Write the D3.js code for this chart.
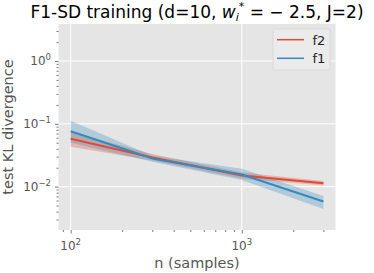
<!DOCTYPE html>
<html><head><meta charset="utf-8">
<script src="https://cdn.jsdelivr.net/npm/d3@7"></script>
<style>body{margin:0;background:#fff;font-family:"DejaVu Sans",sans-serif;}</style>
</head><body><svg id="c" width="374" height="273"></svg>
<script>
const nSamples = [100, 300, 1000, 3000];
const f2Mean = [0.058, 0.029, 0.0150, 0.0113];
const f2Lo   = [0.043, 0.026, 0.0135, 0.0104];
const f2Hi   = [0.074, 0.033, 0.0168, 0.0123];
const f1Mean = [0.076, 0.028, 0.0156, 0.0058];
const f1Lo   = [0.050, 0.025, 0.0128, 0.0044];
const f1Hi   = [0.112, 0.031, 0.0192, 0.0071];
const xTicks = [100, 1000];
const yTicks = [1, 0.1, 0.01];
const seriesNames = ["f2", "f1"];
const colors = ["#E24A33", "#348ABD"];

const svg = d3.select("#c");
const L = 58.5, R = 335.5, T = 24, B = 230;
const x = d3.scaleLog().domain([84.9, 3530]).range([L, R]);
const y = d3.scaleLog().domain([0.00204, 3.88]).range([B, T]);

svg.append("rect").attr("x", L).attr("y", T).attr("width", R - L).attr("height", B - T).attr("fill", "#E5E5E5");

// grid
svg.append("g").selectAll("line").data(xTicks).join("line")
  .attr("x1", d => x(d)).attr("x2", d => x(d)).attr("y1", T).attr("y2", B)
  .attr("stroke", "#fff").attr("stroke-width", 1);
svg.append("g").selectAll("line").data(yTicks).join("line")
  .attr("y1", d => y(d)).attr("y2", d => y(d)).attr("x1", L).attr("x2", R)
  .attr("stroke", "#fff").attr("stroke-width", 1);

// axes
const xMinor = [];
for (let e = 1; e <= 3; e++) for (let m = 2; m <= 9; m++) { const v = m * Math.pow(10, e); if (v >= 84.9 && v <= 3530) xMinor.push(v); }
const yMinor = [];
for (let e = -3; e <= 0; e++) for (let m = 2; m <= 9; m++) { const v = m * Math.pow(10, e); if (v >= 0.00204 && v <= 3.88) yMinor.push(v); }

const xAxis = d3.axisBottom(x).tickValues(xTicks).tickSize(3.5).tickFormat(() => "");
svg.append("g").attr("transform", `translate(0,${B})`).call(xAxis);
const xAxisMinor = d3.axisBottom(x).tickValues(xMinor).tickSize(2).tickFormat(() => "");
svg.append("g").attr("transform", `translate(0,${B})`).call(xAxisMinor);
const yAxis = d3.axisLeft(y).tickValues(yTicks).tickSize(3.5).tickFormat(() => "");
svg.append("g").attr("transform", `translate(${L},0)`).call(yAxis);
const yAxisMinor = d3.axisLeft(y).tickValues(yMinor).tickSize(2).tickFormat(() => "");
svg.append("g").attr("transform", `translate(${L},0)`).call(yAxisMinor);
svg.selectAll(".domain").remove();
svg.selectAll(".tick line").attr("stroke", "#555").attr("stroke-width", 0.8);

// tick labels with superscripts
xTicks.forEach(v => {
  const e = Math.round(Math.log10(v));
  const t = svg.append("text").attr("x", x(v)).attr("y", 250).attr("text-anchor", "middle")
    .attr("font-size", 12).attr("fill", "#555");
  t.append("tspan").text("10");
  t.append("tspan").attr("dy", -5).attr("font-size", 8.5).text(String(e));
});
yTicks.forEach(v => {
  const e = Math.round(Math.log10(v));
  const t = svg.append("text").attr("x", 51).attr("y", y(v) + 4.5).attr("text-anchor", "end")
    .attr("font-size", 12).attr("fill", "#555");
  t.append("tspan").text("10");
  t.append("tspan").attr("dy", -5).attr("font-size", 8.5).text(e < 0 ? "\u2212" + (-e) : String(e));
});

// bands and lines
const data = [
  {name: seriesNames[0], mean: f2Mean, lo: f2Lo, hi: f2Hi, color: colors[0]},
  {name: seriesNames[1], mean: f1Mean, lo: f1Lo, hi: f1Hi, color: colors[1]}
];
const area = d3.area().x(d => x(d.n)).y0(d => y(d.lo)).y1(d => y(d.hi));
const line = d3.line().x(d => x(d.n)).y(d => y(d.m));
data.forEach(s => {
  const pts = nSamples.map((n, i) => ({n, lo: s.lo[i], hi: s.hi[i], m: s.mean[i]}));
  svg.append("path").datum(pts).attr("d", area).attr("fill", s.color).attr("fill-opacity", 0.3);
});
data.forEach(s => {
  const pts = nSamples.map((n, i) => ({n, m: s.mean[i]}));
  svg.append("path").datum(pts).attr("d", line).attr("fill", "none").attr("stroke", s.color).attr("stroke-width", 2);
});

// legend
const lg = svg.append("g");
lg.append("rect").attr("x", 273).attr("y", 29).attr("width", 57).attr("height", 41).attr("rx", 2)
  .attr("fill", "#EBEBEB").attr("stroke", "#D6D6D6").attr("stroke-width", 0.8);
data.forEach((s, i) => {
  const yy = 39.7 + i * 18.6;
  lg.append("line").attr("x1", 277).attr("x2", 304).attr("y1", yy).attr("y2", yy).attr("stroke", s.color).attr("stroke-width", 1.5);
  lg.append("text").attr("x", 312.5).attr("y", yy + 4.8).attr("font-size", 13).attr("fill", "#222").text(s.name);
});

// title
const title = svg.append("text").attr("x", 197).attr("y", 17.5).attr("text-anchor", "middle").attr("font-size", 17).attr("fill", "#000");
title.append("tspan").text("F1-SD training (d=10, ");
title.append("tspan").attr("font-style", "italic").text("w");
title.append("tspan").attr("font-size", 11).attr("dy", 3.5).attr("font-style", "italic").text("i");
title.append("tspan").attr("font-size", 11).attr("dy", -11).attr("dx", 0).text("*");
title.append("tspan").attr("dy", 7.5).text(" = \u2212 2.5, J=2)");

// axis labels
svg.append("text").attr("x", 197).attr("y", 268).attr("text-anchor", "middle").attr("font-size", 14.5).attr("fill", "#555").text("n (samples)");
svg.append("text").attr("transform", "translate(12.5,127) rotate(-90)").attr("text-anchor", "middle").attr("font-size", 14.5).attr("fill", "#555").text("test KL divergence");
</script></body></html>
